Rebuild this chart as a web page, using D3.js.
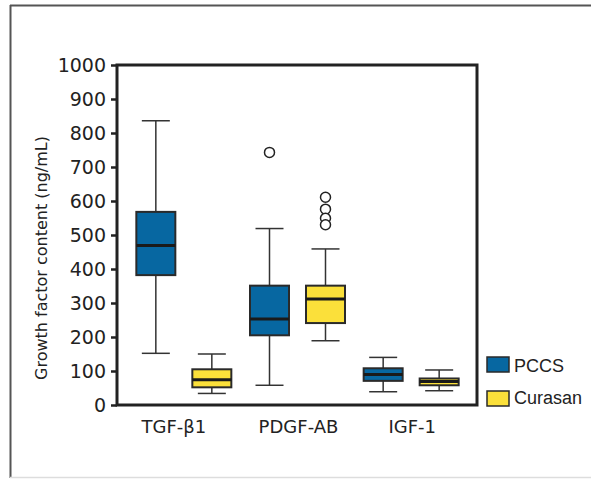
<!DOCTYPE html>
<html>
<head>
<meta charset="utf-8">
<script src="https://cdn.jsdelivr.net/npm/d3@7"></script>
<style>
  body { margin: 0; background: #fff; }
  svg { display: block; }
</style>
</head>
<body>
<div id="app"></div>
<script>
const categories = ["TGF-β1", "PDGF-AB", "IGF-1"]
const groups = ["PCCS", "Curasan"]
const groupColors = ["#0767a1", "#fbe03a"]
const yTicks = [0, 100, 200, 300, 400, 500, 600, 700, 800, 900, 1000]

// [whisker low, Q1, median, Q3, whisker high] per category
const pccsStats = [[152, 382, 469, 568, 836], [58, 205, 253, 351, 519], [39, 71, 90, 108, 140]]
const curasanStats = [[34, 52, 74, 105, 150], [189, 241, 312, 351, 459], [42, 58, 69, 78, 103]]
const pccsOutliers = [[], [743], []]
const curasanOutliers = [[], [611, 576, 549, 530], []]

const width = 591, height = 479
const plot = {left: 117, right: 477, top: 65, bottom: 405}
const font = '"DejaVu Sans", sans-serif'

const svg = d3.select('#app').append('svg')
    .attr('width', width)
    .attr('height', height)
    .attr('font-family', font)

// outer frame
svg.append('line').attr('x1', 10).attr('x2', width).attr('y1', 5.5).attr('y2', 5.5)
    .attr('stroke', '#555').attr('stroke-width', 2)
svg.append('line').attr('x1', 10.5).attr('x2', 10.5).attr('y1', 5).attr('y2', 478)
    .attr('stroke', '#555').attr('stroke-width', 2)
svg.append('line').attr('x1', 10).attr('x2', width).attr('y1', 477.5).attr('y2', 477.5)
    .attr('stroke', '#ddd').attr('stroke-width', 1.5)

const y = d3.scaleLinear().domain([0, 1000]).range([plot.bottom, plot.top])
const x = d3.scaleBand().domain(categories).range([127, 468])
const xSub = d3.scalePoint().domain(groups).range([-28, 28])

const yAxis = svg.append('g')
    .attr('transform', `translate(${plot.left},0)`)
    .call(d3.axisLeft(y).tickValues(yTicks).tickFormat(d3.format('d'))
        .tickSize(6).tickSizeOuter(0).tickPadding(5))
    .attr('font-family', font)
    .attr('font-size', 19)
yAxis.select('.domain').remove()
yAxis.selectAll('.tick line').attr('stroke', '#222').attr('stroke-width', 2.5)
yAxis.selectAll('.tick text').attr('fill', '#222').attr('dy', '0.36em')

// plot frame
svg.append('rect')
    .attr('x', plot.left).attr('y', plot.top)
    .attr('width', plot.right - plot.left).attr('height', plot.bottom - plot.top)
    .attr('fill', 'none').attr('stroke', '#222').attr('stroke-width', 3)

// category labels (first label sits a little left of its group in the original)
svg.selectAll('.cat')
    .data(categories)
    .join('text')
    .attr('class', 'cat')
    .attr('x', (d, i) => x(d) + x.bandwidth() / 2 + (i === 0 ? -10 : 1))
    .attr('y', 433)
    .attr('text-anchor', 'middle')
    .attr('font-size', 18)
    .attr('fill', '#222')
    .text(d => d)

// axis title
svg.append('text')
    .attr('transform', 'translate(47,258) rotate(-90)')
    .attr('text-anchor', 'middle')
    .attr('font-size', 16)
    .attr('fill', '#222')
    .text('Growth factor content (ng/mL)')

const boxW = 39, capW = 28
const series = [
    {name: 'PCCS', stats: pccsStats, outliers: pccsOutliers},
    {name: 'Curasan', stats: curasanStats, outliers: curasanOutliers},
]

series.forEach((s, si) => {
    s.stats.forEach((st, ci) => {
        const cx = x(categories[ci]) + x.bandwidth() / 2 + xSub(s.name)
        const [lo, q1, med, q3, hi] = st
        const g = svg.append('g')
        g.append('line').attr('x1', cx).attr('x2', cx).attr('y1', y(hi)).attr('y2', y(q3))
            .attr('stroke', '#333').attr('stroke-width', 1.5)
        g.append('line').attr('x1', cx).attr('x2', cx).attr('y1', y(q1)).attr('y2', y(lo))
            .attr('stroke', '#333').attr('stroke-width', 1.5)
        g.selectAll('.cap').data([lo, hi]).join('line')
            .attr('x1', cx - capW / 2).attr('x2', cx + capW / 2)
            .attr('y1', d => y(d)).attr('y2', d => y(d))
            .attr('stroke', '#333').attr('stroke-width', 1.5)
        g.append('rect')
            .attr('x', cx - boxW / 2).attr('width', boxW)
            .attr('y', y(q3)).attr('height', y(q1) - y(q3))
            .attr('fill', groupColors[si]).attr('stroke', '#2a2a2a').attr('stroke-width', 2)
        g.append('line').attr('x1', cx - boxW / 2).attr('x2', cx + boxW / 2)
            .attr('y1', y(med)).attr('y2', y(med))
            .attr('stroke', '#1a1a1a').attr('stroke-width', 3)
        g.selectAll('circle').data(s.outliers[ci]).join('circle')
            .attr('cx', cx).attr('cy', d => y(d)).attr('r', 5)
            .attr('fill', '#fff').attr('stroke', '#222').attr('stroke-width', 1.5)
    })
})

// legend
const legend = svg.append('g')
legend.selectAll('rect').data(groups).join('rect')
    .attr('x', 487).attr('y', (d, i) => 357 + i * 34)
    .attr('width', 22).attr('height', 15)
    .attr('fill', (d, i) => groupColors[i]).attr('stroke', '#2a2a2a').attr('stroke-width', 1.5)
legend.selectAll('text').data(groups).join('text')
    .attr('x', 514).attr('y', (d, i) => 372 + i * 32)
    .attr('font-size', 18).attr('font-family', '"Liberation Sans", sans-serif')
    .attr('fill', '#222')
    .text(d => d)
</script>
</body>
</html>
